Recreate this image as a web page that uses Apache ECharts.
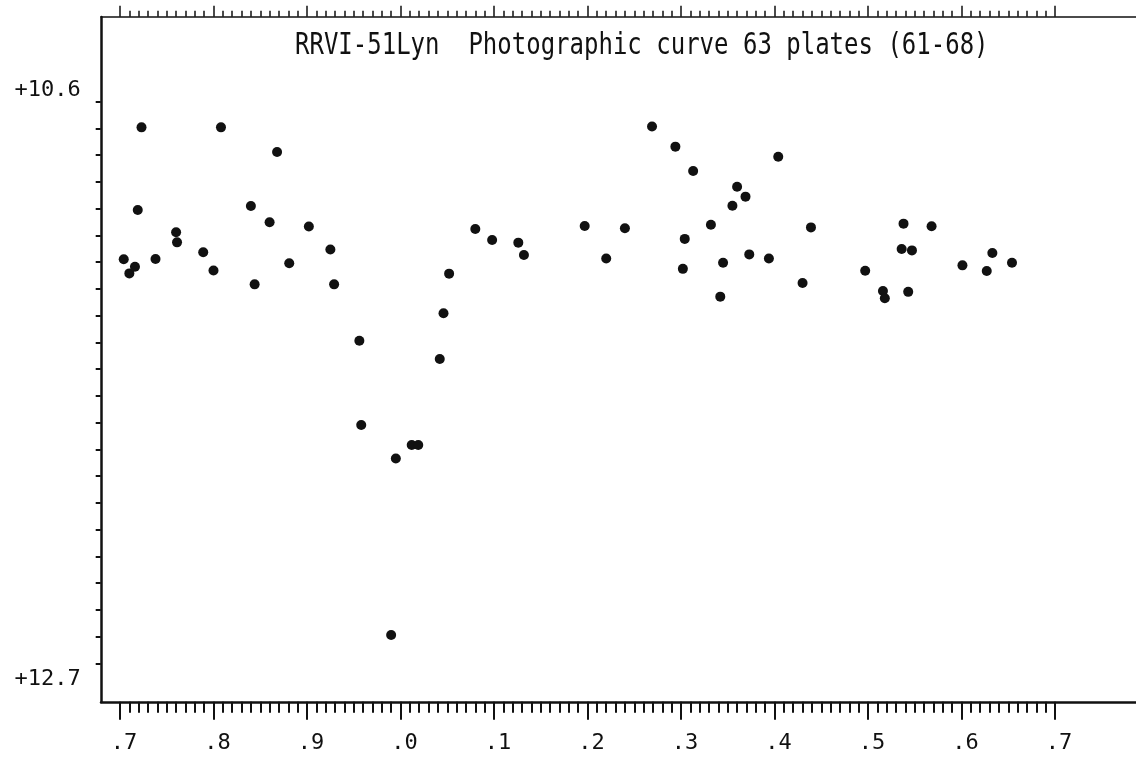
<!DOCTYPE html>
<html>
<head>
<meta charset="utf-8">
<title>RRVI-51Lyn photographic curve</title>
<script src="https://cdn.jsdelivr.net/npm/echarts@6.0.0/dist/echarts.min.js"></script>
<style>
  html, body { margin: 0; padding: 0; background: #fff; }
  #main { width: 1136px; height: 764px; }
</style>
</head>
<body>
<div id="main"></div>
<script>
var chartTitle = 'RRVI-51Lyn  Photographic curve 63 plates (61-68)';

// phase and photographic magnitude of every plate
var phases = [
  0.012, 0.019, 0.042, 0.046, 0.052, 0.080, 0.098, 0.126, 0.132,
  0.197, 0.220, 0.240, 0.269, 0.294, 0.302, 0.304, 0.313,
  0.332, 0.342, 0.345, 0.355, 0.360, 0.369, 0.373, 0.394,
  0.404, 0.430, 0.439, 0.497, 0.516, 0.518, 0.536, 0.538,
  0.543, 0.547, 0.568, 0.601, 0.627, 0.633, 0.654,
  0.704, 0.710, 0.716, 0.719, 0.723, 0.738, 0.760, 0.761,
  0.789, 0.800, 0.808, 0.840, 0.844, 0.860, 0.868, 0.881,
  0.902, 0.925, 0.929, 0.956, 0.958, 0.990, 0.995
];
var mags = [
  11.884, 11.884, 11.562, 11.391, 11.243, 11.076, 11.117, 11.127, 11.173,
  11.065, 11.186, 11.073, 10.693, 10.768, 11.225, 11.113, 10.859,
  11.060, 11.329, 11.202, 10.989, 10.918, 10.955, 11.171, 11.186,
  10.806, 11.278, 11.070, 11.232, 11.308, 11.335, 11.151, 11.056,
  11.311, 11.156, 11.066, 11.212, 11.233, 11.166, 11.202,
  11.189, 11.242, 11.217, 11.005, 10.696, 11.188, 11.088, 11.126,
  11.163, 11.231, 10.696, 10.990, 11.283, 11.051, 10.788, 11.204,
  11.067, 11.153, 11.283, 11.494, 11.809, 12.594, 11.934
];

var phaseStart = 0.7;          // plot runs .7 -> .7
var magTicks = [10.6, 12.7];   // only the ends of the mag scale are labelled

var ink = '#111';
var mono = '"DejaVu Sans Mono", "Liberation Mono", monospace';

// unwrap phase so the curve reads .7 .8 .9 .0 .1 ... .7
var points = [];
for (var i = 0; i < phases.length; i++) {
  var p = phases[i] < phaseStart ? phases[i] + 1 : phases[i];
  points.push([p, mags[i]]);
}

var option = {
  animation: false,
  backgroundColor: '#fff',
  graphic: [{
    type: 'text',
    x: 295,
    y: 46,
    scaleY: 1.25,
    style: {
      text: chartTitle,
      font: '24px ' + mono,
      fill: ink,
      verticalAlign: 'middle'
    }
  }],
  grid: [
    { left: 101, top: 17, right: 0, bottom: 62 },              // frame lines
    { left: 120, top: 101.7, width: 935, height: 561.6 }       // data area
  ],
  xAxis: [
    {
      gridIndex: 0, type: 'value', min: 0, max: 1,
      axisLine: { show: true, onZero: false, lineStyle: { color: ink, width: 2.5 } },
      axisTick: { show: false }, axisLabel: { show: false }, splitLine: { show: false }
    },
    {
      gridIndex: 0, type: 'value', position: 'top', min: 0, max: 1,
      axisLine: { show: true, onZero: false, lineStyle: { color: ink, width: 1.6 } },
      axisTick: { show: false }, axisLabel: { show: false }, splitLine: { show: false }
    },
    {
      gridIndex: 1, type: 'value', min: 0.7, max: 1.7, interval: 0.1, offset: 38.5,
      axisLine: { show: false },
      axisTick: { length: 18, lineStyle: { color: ink, width: 2 } },
      minorTick: { show: true, splitNumber: 10, length: 11, lineStyle: { color: ink, width: 2 } },
      axisLabel: {
        margin: 30, color: ink, fontFamily: mono, fontSize: 22, padding: [0, 0, 0, 8],
        formatter: function (v) { return '.' + (Math.round(v * 10) % 10); }
      },
      splitLine: { show: false }, minorSplitLine: { show: false }
    },
    {
      gridIndex: 1, type: 'value', position: 'top', min: 0.7, max: 1.7, interval: 0.1, offset: 85,
      axisLine: { show: false },
      axisTick: { length: 11, lineStyle: { color: ink, width: 1.5 } },
      minorTick: { show: true, splitNumber: 10, length: 6, lineStyle: { color: ink, width: 1.5 } },
      axisLabel: { show: false },
      splitLine: { show: false }, minorSplitLine: { show: false }
    }
  ],
  yAxis: [
    {
      gridIndex: 0, type: 'value', min: 0, max: 1,
      axisLine: { show: true, onZero: false, lineStyle: { color: ink, width: 2.5 } },
      axisTick: { show: false }, axisLabel: { show: false }, splitLine: { show: false }
    },
    {
      gridIndex: 1, type: 'value', inverse: true, min: 10.6, max: 12.7, interval: 0.1, offset: 19.3,
      axisLine: { show: false },
      axisTick: { length: 5, lineStyle: { color: ink, width: 2 } },
      axisLabel: {
        margin: 20, color: ink, fontFamily: mono, fontSize: 22,
        formatter: function (v) {
          if (Math.abs(v - magTicks[0]) < 1e-6) return '{up|+' + magTicks[0].toFixed(1) + '}';
          if (Math.abs(v - magTicks[1]) < 1e-6) return '{dn|+' + magTicks[1].toFixed(1) + '}';
          return '';
        },
        rich: {
          up: { padding: [0, 0, 23, 0], color: ink, fontFamily: mono, fontSize: 22 },
          dn: { padding: [32, 0, 0, 0], color: ink, fontFamily: mono, fontSize: 22 }
        }
      },
      splitLine: { show: false }
    }
  ],
  series: [{
    type: 'scatter',
    xAxisIndex: 2,
    yAxisIndex: 1,
    data: points,
    symbolSize: 10,
    itemStyle: { color: ink, opacity: 1 }
  }]
};

var myChart = echarts.init(document.getElementById('main'));
myChart.setOption(option);
</script>
</body>
</html>
